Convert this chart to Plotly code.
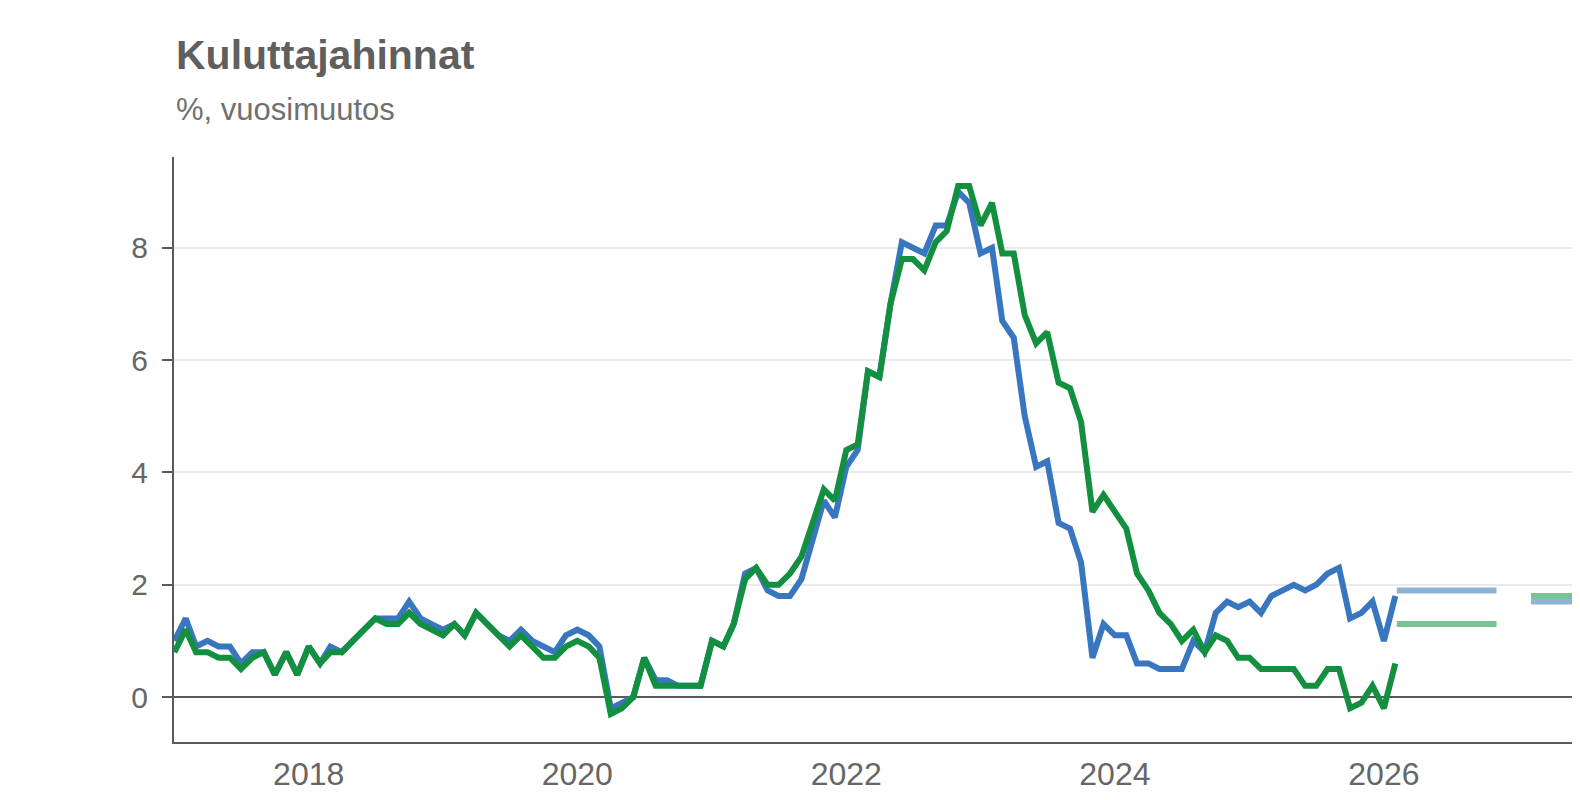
import pandas as pd
import plotly.graph_objects as go

# Kuukausittainen vuosimuutos (%), tammikuu 2017 - helmikuu 2026
ykhi = [1.0, 1.4, 0.9, 1.0, 0.9, 0.9, 0.6, 0.8, 0.8, 0.4, 0.8, 0.4,
        0.9, 0.6, 0.9, 0.8, 1.0, 1.2, 1.4, 1.4, 1.4, 1.7, 1.4, 1.3,
        1.2, 1.3, 1.1, 1.5, 1.3, 1.1, 1.0, 1.2, 1.0, 0.9, 0.8, 1.1,
        1.2, 1.1, 0.9, -0.2, -0.1, 0.0, 0.7, 0.3, 0.3, 0.2, 0.2, 0.2,
        1.0, 0.9, 1.3, 2.2, 2.3, 1.9, 1.8, 1.8, 2.1, 2.8, 3.5, 3.2,
        4.1, 4.4, 5.8, 5.7, 7.0, 8.1, 8.0, 7.9, 8.4, 8.4, 9.0, 8.8,
        7.9, 8.0, 6.7, 6.4, 5.0, 4.1, 4.2, 3.1, 3.0, 2.4, 0.7, 1.3,
        1.1, 1.1, 0.6, 0.6, 0.5, 0.5, 0.5, 1.0, 0.8, 1.5, 1.7, 1.6,
        1.7, 1.5, 1.8, 1.9, 2.0, 1.9, 2.0, 2.2, 2.3, 1.4, 1.5, 1.7,
        1.0, 1.8]

khi = [0.8, 1.2, 0.8, 0.8, 0.7, 0.7, 0.5, 0.7, 0.8, 0.4, 0.8, 0.4,
       0.9, 0.6, 0.8, 0.8, 1.0, 1.2, 1.4, 1.3, 1.3, 1.5, 1.3, 1.2,
       1.1, 1.3, 1.1, 1.5, 1.3, 1.1, 0.9, 1.1, 0.9, 0.7, 0.7, 0.9,
       1.0, 0.9, 0.7, -0.3, -0.2, 0.0, 0.7, 0.2, 0.2, 0.2, 0.2, 0.2,
       1.0, 0.9, 1.3, 2.1, 2.3, 2.0, 2.0, 2.2, 2.5, 3.1, 3.7, 3.5,
       4.4, 4.5, 5.8, 5.7, 7.0, 7.8, 7.8, 7.6, 8.1, 8.3, 9.1, 9.1,
       8.4, 8.8, 7.9, 7.9, 6.8, 6.3, 6.5, 5.6, 5.5, 4.9, 3.3, 3.6,
       3.3, 3.0, 2.2, 1.9, 1.5, 1.3, 1.0, 1.2, 0.8, 1.1, 1.0, 0.7,
       0.7, 0.5, 0.5, 0.5, 0.5, 0.2, 0.2, 0.5, 0.5, -0.2, -0.1, 0.2,
       -0.2, 0.6]

# ennusteet vuosille
ennuste_vuodet = [2026, 2027]
ennuste_ykhi = [1.9, 1.7]
ennuste_khi = [1.3, 1.8]

x_tick_years = [2018, 2020, 2022, 2024, 2026]
y_ticks = [0, 2, 4, 6, 8]

BLUE = '#3877bf'
GREEN = '#12903f'
BLUE_LIGHT = '#8fb3d6'
GREEN_LIGHT = '#79c395'
TEXT = '#666666'
AXIS = '#5a5a5a'

months = pd.date_range('2017-01-01', periods=len(ykhi), freq='MS')

fig = go.Figure()
fig.add_trace(go.Scatter(x=months, y=ykhi, mode='lines',
                         line=dict(color=BLUE, width=6), name='YKHI'))
fig.add_trace(go.Scatter(x=months, y=khi, mode='lines',
                         line=dict(color=GREEN, width=6), name='KHI'))

# ennusteviivat
for i, vuosi in enumerate(ennuste_vuodet):
    xs = [f'{vuosi}-02-05', f'{vuosi}-11-03']
    fig.add_trace(go.Scatter(x=xs, y=[ennuste_ykhi[i]] * 2, mode='lines',
                             line=dict(color=BLUE_LIGHT, width=6)))
    fig.add_trace(go.Scatter(x=xs, y=[ennuste_khi[i]] * 2, mode='lines',
                             line=dict(color=GREEN_LIGHT, width=6)))

fig.add_annotation(text='<b>Kuluttajahinnat</b>', xref='paper', yref='paper',
                   x=0, y=1.1745, xanchor='left', yanchor='middle', showarrow=False,
                   font=dict(size=41, color='#5f5f5f'))
fig.add_annotation(text='%, vuosimuutos', xref='paper', yref='paper',
                   x=0, y=1.0805, xanchor='left', yanchor='middle', showarrow=False,
                   font=dict(size=31, color='#707070'))

fig.update_layout(
    width=1600, height=784,
    margin=dict(l=166, r=0, t=149, b=38),
    plot_bgcolor='white', paper_bgcolor='white',
    showlegend=False,
    font=dict(family='Liberation Sans, Arial, sans-serif', color=TEXT),
    xaxis=dict(
        range=['2016-12-31', '2027-09-02'],
        tickvals=[f'{y}-01-01' for y in x_tick_years],
        ticktext=[str(y) for y in x_tick_years],
        showgrid=False, zeroline=False,
        showline=True, linecolor=AXIS, linewidth=2,
        ticks='', tickfont=dict(size=32, color=TEXT),
        ticklabelstandoff=3,
    ),
    yaxis=dict(
        range=[-0.80, 9.618],
        tickvals=y_ticks,
        showgrid=True, gridcolor='#ebebeb', gridwidth=1.5,
        zeroline=True, zerolinecolor=AXIS, zerolinewidth=2,
        showline=True, linecolor=AXIS, linewidth=2,
        ticks='outside', ticklen=10, tickcolor=AXIS, tickwidth=1.5,
        tickfont=dict(size=30, color=TEXT),
        ticklabelstandoff=8,
    ),
)

fig.write_html('out.html')
